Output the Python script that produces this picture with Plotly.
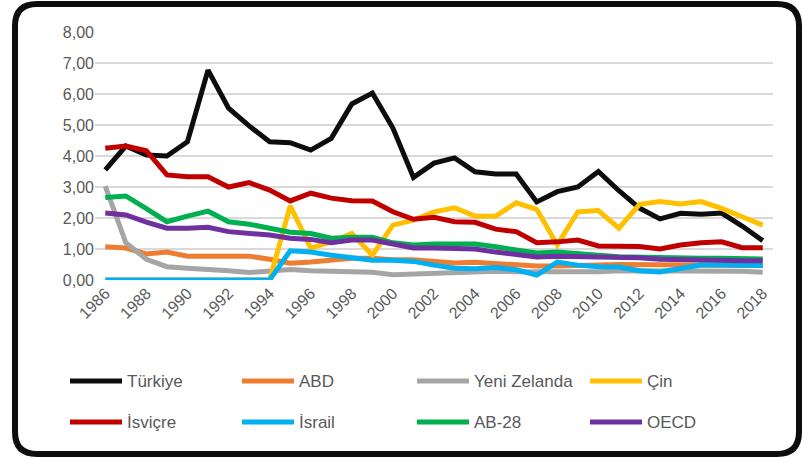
import plotly.graph_objects as go

years = list(range(1986, 2019))

turkiye = [3.55, 4.32, 4.03, 4.00, 4.46, 6.77, 5.54, 4.97, 4.46, 4.43, 4.19, 4.57, 5.68, 6.03, 4.90, 3.31, 3.77, 3.94, 3.49, 3.42, 3.42, 2.52, 2.85, 3.00, 3.50, 2.88, 2.32, 1.97, 2.15, 2.12, 2.16, 1.74, 1.27]
abd = [1.07, 1.03, 0.84, 0.90, 0.77, 0.77, 0.77, 0.77, 0.67, 0.54, 0.58, 0.64, 0.70, 0.70, 0.65, 0.65, 0.60, 0.55, 0.57, 0.52, 0.48, 0.45, 0.45, 0.45, 0.48, 0.50, 0.50, 0.50, 0.50, 0.50, 0.50, 0.48, 0.47]
yeni_zelanda = [3.03, 1.20, 0.67, 0.43, 0.38, 0.36, 0.30, 0.24, 0.30, 0.34, 0.30, 0.27, 0.27, 0.25, 0.17, 0.20, 0.22, 0.25, 0.25, 0.28, 0.27, 0.27, 0.24, 0.24, 0.27, 0.30, 0.30, 0.28, 0.28, 0.30, 0.30, 0.28, 0.25]
cin = [0, 0, 0, 0, 0, 0, 0, 0, 0, 2.39, 1.03, 1.23, 1.50, 0.80, 1.77, 1.93, 2.20, 2.33, 2.06, 2.06, 2.49, 2.28, 1.13, 2.20, 2.24, 1.67, 2.44, 2.53, 2.45, 2.53, 2.31, 2.04, 1.77]
isvicre = [4.25, 4.32, 4.17, 3.39, 3.33, 3.33, 3.00, 3.14, 2.90, 2.55, 2.80, 2.64, 2.56, 2.55, 2.20, 1.96, 2.02, 1.88, 1.86, 1.64, 1.56, 1.20, 1.23, 1.29, 1.10, 1.08, 1.08, 1.00, 1.13, 1.20, 1.23, 1.04, 1.04]
israil = [0, 0, 0, 0, 0, 0, 0, 0, 0, 0.94, 0.90, 0.80, 0.71, 0.64, 0.64, 0.60, 0.48, 0.38, 0.36, 0.40, 0.33, 0.16, 0.58, 0.48, 0.43, 0.42, 0.30, 0.26, 0.37, 0.48, 0.48, 0.47, 0.47]
ab28 = [2.66, 2.71, 2.30, 1.88, 2.06, 2.22, 1.88, 1.80, 1.67, 1.54, 1.50, 1.35, 1.38, 1.38, 1.20, 1.13, 1.16, 1.14, 1.16, 1.07, 0.97, 0.87, 0.90, 0.87, 0.80, 0.75, 0.73, 0.73, 0.70, 0.70, 0.70, 0.69, 0.68]
oecd = [2.16, 2.10, 1.87, 1.67, 1.67, 1.70, 1.56, 1.51, 1.45, 1.35, 1.31, 1.20, 1.29, 1.29, 1.16, 1.03, 1.03, 1.00, 1.00, 0.90, 0.83, 0.74, 0.77, 0.76, 0.74, 0.73, 0.72, 0.67, 0.65, 0.64, 0.63, 0.62, 0.62]

names = ["Türkiye", "ABD", "Yeni Zelanda", "Çin", "İsviçre", "İsrail", "AB-28", "OECD"]
series = [turkiye, abd, yeni_zelanda, cin, isvicre, israil, ab28, oecd]
colors = ["#0D0D0D", "#ED7D31", "#A5A5A5", "#FFC000", "#C00000", "#00B0F0", "#00B050", "#7030A0"]

tick_years = list(range(1986, 2019, 2))

W, H = 803, 459
L, R, T, B = 95, 30, 32, 179
PW, PH = W - L - R, H - T - B

def fx(px):
    return (px - L) / PW

def fy(py):
    return (H - B - py) / PH

FONT = "Liberation Sans, Arial, sans-serif"
GREY = "#595959"

fig = go.Figure()
for n, s, c in zip(names, series, colors):
    fig.add_trace(go.Scatter(x=years, y=s, name=n, mode="lines",
                             line=dict(color=c, width=5), showlegend=False))

shapes = []
annotations = []
# rounded frame
x0, x1, y0, y1, r = 15, 799, 4, 454, 22
path = (f"M {fx(x0+r)},{fy(y0)} L {fx(x1-r)},{fy(y0)} Q {fx(x1)},{fy(y0)} {fx(x1)},{fy(y0+r)} "
        f"L {fx(x1)},{fy(y1-r)} Q {fx(x1)},{fy(y1)} {fx(x1-r)},{fy(y1)} "
        f"L {fx(x0+r)},{fy(y1)} Q {fx(x0)},{fy(y1)} {fx(x0)},{fy(y1-r)} "
        f"L {fx(x0)},{fy(y0+r)} Q {fx(x0)},{fy(y0)} {fx(x0+r)},{fy(y0)} Z")
shapes.append(dict(type="path", path=path, xref="paper", yref="paper",
                   line=dict(color="#0D0D0D", width=6), layer="above"))

# manual legend
col_x = [70, 242, 417, 590]
row_y = [381, 422]
for i, (n, c) in enumerate(zip(names, colors)):
    cx = col_x[i % 4]
    ry = row_y[i // 4]
    shapes.append(dict(type="line", xref="paper", yref="paper",
                       x0=fx(cx), x1=fx(cx + 52), y0=fy(ry), y1=fy(ry),
                       line=dict(color=c, width=5)))
    annotations.append(dict(text=n, xref="paper", yref="paper", x=fx(cx + 55), y=fy(ry),
                            xanchor="left", yanchor="middle", showarrow=False,
                            font=dict(family=FONT, size=17, color=GREY)))

fig.update_layout(
    width=W, height=H,
    margin=dict(l=L, r=R, t=T, b=B),
    paper_bgcolor="white", plot_bgcolor="white",
    separators=",.",
    font=dict(family=FONT, color=GREY),
    shapes=shapes, annotations=annotations,
    xaxis=dict(range=[1985.5, 2018.5], tickmode="array", tickvals=tick_years,
               ticktext=[str(y) for y in tick_years], tickangle=-45,
               showgrid=False, zeroline=False, showline=False, ticks="",
               tickfont=dict(size=16, color=GREY, family=FONT)),
    yaxis=dict(range=[0, 8], tickmode="array", tickvals=list(range(0, 9)),
               tickformat=".2f", showgrid=True, gridcolor="#D9D9D9", gridwidth=1.5,
               zeroline=False, showline=False, ticks="", ticklabelstandoff=0,
               tickfont=dict(size=16, color=GREY, family=FONT)),
    showlegend=False,
)

fig.write_html("out.html", config={"displayModeBar": False},
               post_script="document.body.style.margin='0';document.body.style.overflow='hidden';")
